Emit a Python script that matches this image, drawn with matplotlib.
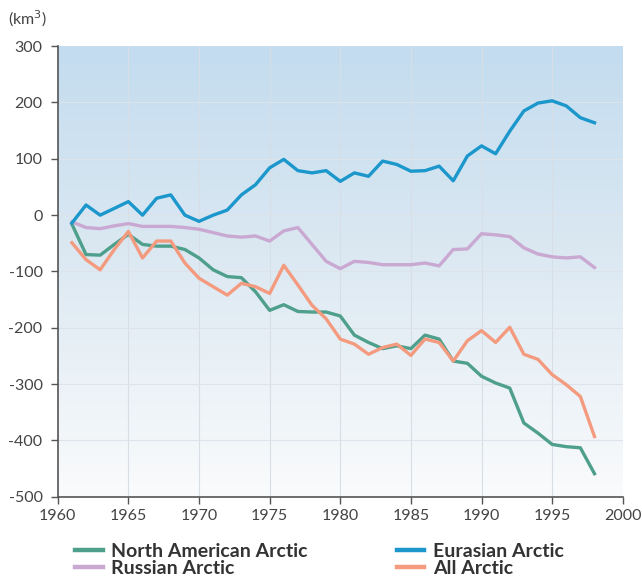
#Arctic glacier/ice cumulative mass balance chart, four regions, km3
import numpy as np
import matplotlib
matplotlib.use("Agg")
import matplotlib.pyplot as plt
from matplotlib.colors import LinearSegmentedColormap

years = list(range(1961, 1999))

north_american = [-16, -70, -71, -52, -34, -52, -55, -55, -61, -76,
                  -97, -109, -111, -136, -169, -159, -171, -172, -172, -179,
                  -213, -226, -237, -232, -237, -213, -220, -259, -263, -286,
                  -298, -307, -369, -387, -407, -411, -413, -459]
eurasian = [-14, 18, 0, 12, 24, 0, 30, 36, 0, -11,
            0, 9, 36, 54, 84, 99, 79, 75, 79, 60,
            75, 69, 96, 90, 78, 79, 87, 61, 105, 123,
            109, 149, 185, 199, 203, 194, 173, 164]
russian = [-12, -22, -24, -19, -15, -20, -20, -20, -22, -25,
           -31, -37, -39, -37, -46, -28, -22, -52, -82, -95,
           -82, -84, -88, -88, -88, -85, -90, -61, -60, -33,
           -35, -38, -58, -69, -74, -76, -74, -93]
all_arctic = [-49, -79, -97, -61, -29, -76, -46, -46, -85, -112,
              -127, -142, -121, -127, -139, -89, -124, -160, -184, -220,
              -229, -247, -235, -229, -249, -220, -226, -259, -223, -205,
              -226, -199, -247, -256, -283, -301, -322, -393]

x_ticks = list(range(1960, 2001, 5))
y_ticks = list(range(-500, 301, 100))

plt.rcParams['font.family'] = ['Lato', 'DejaVu Sans']

fig = plt.figure(figsize=(6.42, 5.77), dpi=100)
ax = fig.add_axes([0.090, 0.139, 0.880, 0.781])

# background gradient, light blue on top fading to white
cmap = LinearSegmentedColormap.from_list("bg", [(0.0, "#c3dcef"), (0.45, "#dbe8f2"), (1.0, "#fafbfc")])
grad = np.linspace(0, 1, 256).reshape(-1, 1)
ax.imshow(grad, cmap=cmap, aspect="auto", extent=[0, 1, 0, 1],
          transform=ax.transAxes, zorder=0)

for xv in x_ticks[1:-1]:
    ax.axvline(xv, color="#d8dee5", lw=0.8, zorder=1)
for yv in y_ticks[1:-1]:
    ax.axhline(yv, color="#dde3ea", lw=0.8, zorder=1)

lw = 2.4
ax.plot(years, north_american, color="#4e9f8b", lw=lw, label="North American Arctic", zorder=3)
ax.plot(years, russian, color="#c9a8d2", lw=lw, label="Russian Arctic", zorder=3)
ax.plot(years, eurasian, color="#1b97cc", lw=lw, label="Eurasian Arctic", zorder=4)
ax.plot(years, all_arctic, color="#f49a7e", lw=lw, label="All Arctic", zorder=3)

ax.set_xlim(1960, 2000)
ax.set_ylim(-500, 300)
ax.set_xticks(x_ticks)
ax.set_yticks(y_ticks)
ax.set_yticklabels([str(v) for v in y_ticks])
ax.tick_params(axis="both", direction="out", length=5, width=1, color="#555555",
               labelsize=11.5, labelcolor="#444444")
ax.tick_params(axis="y", pad=6)
for s in ["top", "right"]:
    ax.spines[s].set_visible(False)
for s in ["left", "bottom"]:
    ax.spines[s].set_color("#555555")
    ax.spines[s].set_linewidth(1.2)

fig.text(0.012, 0.958, "(km$^3$)", fontsize=11.5, color="#444444")

handles, labels = ax.get_legend_handles_labels()
leg = fig.legend(handles, labels, loc="lower left", bbox_to_anchor=(0.09, -0.03),
                 ncol=2, frameon=False, handlelength=1.4, handletextpad=0.45,
                 columnspacing=4.6, labelspacing=0.0,
                 prop={"weight": "bold", "size": 14})
for t in leg.get_texts():
    t.set_color("#333333")
for h in leg.legend_handles:
    h.set_linewidth(3.2)

fig.savefig("out.png", dpi=100)
